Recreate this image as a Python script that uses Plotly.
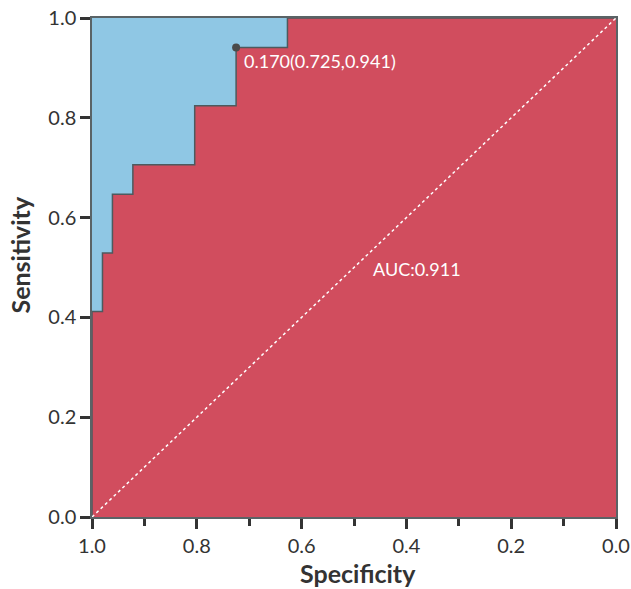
import plotly.graph_objects as go

# ROC step points (specificity, sensitivity)
specificity = [1.0, 1.0, 0.980, 0.961, 0.922, 0.804, 0.725, 0.627, 0.0]
sensitivity = [0.0, 0.412, 0.529, 0.647, 0.706, 0.824, 0.941, 1.0, 1.0]

best_threshold = 0.170
best_spec = 0.725
best_sens = 0.941
auc_value = 0.911

x_ticks = [1.0, 0.8, 0.6, 0.4, 0.2, 0.0]
y_ticks = [0.0, 0.2, 0.4, 0.6, 0.8, 1.0]

RED = "#D14D5E"
BLUE = "#8FC7E4"
FONT = "Lato"
DARK = "#333333"

fig = go.Figure()

fig.add_trace(go.Scatter(
    x=specificity, y=sensitivity, mode="lines", line_shape="hv",
    fill="tozeroy", fillcolor=RED,
    line=dict(color="#4d5a5e", width=1.5), hoverinfo="skip", showlegend=False))

fig.add_trace(go.Scatter(
    x=[1.0, 0.0], y=[0.0, 1.0], mode="lines",
    line=dict(color="white", width=1.5, dash="dot"), showlegend=False))

fig.add_trace(go.Scatter(
    x=[best_spec], y=[best_sens], mode="markers",
    marker=dict(color="#4a4a4a", size=8), showlegend=False))

fig.add_annotation(x=best_spec, y=best_sens, xanchor="left", yanchor="middle",
                   xshift=6, yshift=-14, showarrow=False,
                   text=f"{best_threshold:.3f}({best_spec:.3f},{best_sens:.3f})",
                   font=dict(family=FONT, size=18, color="white"))
fig.add_annotation(x=0.468, y=0.497, xanchor="left", yanchor="middle", showarrow=False,
                   text=f"AUC:{auc_value:.3f}",
                   font=dict(family=FONT, size=18, color="white"))

# axis titles
fig.add_annotation(xref="paper", yref="paper", x=0.508, y=0, yshift=-56,
                   xanchor="center", yanchor="middle", showarrow=False,
                   text="<b>Specificity</b>", font=dict(family=FONT, size=25, color=DARK))
fig.add_annotation(xref="paper", yref="paper", x=0, y=0.524, xshift=-72,
                   xanchor="center", yanchor="middle", showarrow=False, textangle=-90,
                   text="<b>Sensitivity</b>", font=dict(family=FONT, size=25, color=DARK))

fig.update_layout(
    width=631, height=589,
    margin=dict(l=92, r=15, t=18, b=72, autoexpand=False),
    plot_bgcolor=BLUE, paper_bgcolor="white",
    font=dict(family=FONT, color=DARK),
    xaxis=dict(range=[1.0, 0.0], autorange=False, tickvals=x_ticks, automargin=False,
               ticktext=[f"{v:.1f}" for v in x_ticks], ticklabeloverflow="allow",
               ticks="outside", ticklen=10, tickwidth=3, tickcolor=DARK,
               minor=dict(dtick=0.1, ticks="outside", ticklen=7, tickwidth=3, tickcolor=DARK),
               showgrid=False, zeroline=False, showline=True, linecolor="#5a6366", linewidth=1.5,
               mirror=True, tickfont=dict(size=20, color=DARK)),
    yaxis=dict(range=[0.0, 1.0], tickvals=y_ticks, automargin=False,
               ticktext=[f"{v:.1f}" for v in y_ticks], ticklabeloverflow="allow",
               ticks="outside", ticklen=10, tickwidth=3, tickcolor=DARK,
               showgrid=False, zeroline=False, showline=True, linecolor="#5a6366", linewidth=1.5,
               mirror=True, tickfont=dict(size=20, color=DARK)),
)

fig.write_html("out.html", config={"displayModeBar": False})

# remove the browser's default body margin so the figure fills the window
with open("out.html", encoding="utf-8") as f:
    html = f.read()
html = html.replace("<body>", '<body style="margin:0;overflow:hidden">', 1)
with open("out.html", "w", encoding="utf-8") as f:
    f.write(html)
